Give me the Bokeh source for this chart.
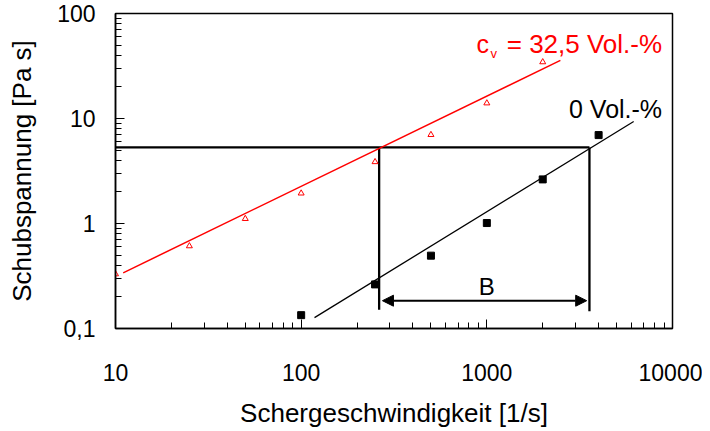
from bokeh.plotting import figure
from bokeh.models import Label, Arrow, NormalHead, FixedTicker
from bokeh.embed import file_html
from bokeh.resources import INLINE

# --- data ---------------------------------------------------------------
shear_rate_red = [10, 25, 50, 100, 250, 500, 1000, 2000]
stress_red = [0.33, 0.61, 1.11, 1.94, 3.86, 7.0, 14.0, 34.5]
fit_red_x = [11, 2490]
fit_red_y = [0.339, 35.8]

shear_rate_blk = [100, 250, 500, 1000, 2000, 4000]
stress_blk = [0.134, 0.263, 0.494, 1.01, 2.63, 6.95]
fit_blk_x = [118, 6180]
fit_blk_y = [0.127, 9.35]

ref_stress = 5.3
b_left = 263
b_right = 3570
b_left_bottom = 0.151
b_right_bottom = 0.146
arrow_x = [274, 3450]
arrow_y = 0.184

x_ticks = [10, 100, 1000, 10000]
x_tick_labels = ["10", "100", "1000", "10000"]
y_ticks = [0.1, 1, 10, 100]
y_tick_labels = ["0,1", "1", "10", "100"]

FONT = "Liberation Sans"

p = figure(width=702, height=430, x_axis_type="log", y_axis_type="log",
           x_range=(10, 10000), y_range=(0.1, 100),
           output_backend="svg", toolbar_location=None,
           min_border_left=115, min_border_right=30,
           min_border_top=13, min_border_bottom=100)

p.grid.visible = False
p.outline_line_color = "black"
p.outline_line_width = 1.5
p.background_fill_color = "white"
p.border_fill_color = "white"

minor_x = [m * 10 ** k for k in range(1, 4) for m in range(2, 10)]
minor_y = [m * 10 ** k for k in range(-1, 2) for m in range(2, 10)]
p.xaxis.ticker = FixedTicker(ticks=x_ticks, minor_ticks=minor_x)
p.yaxis.ticker = FixedTicker(ticks=y_ticks, minor_ticks=minor_y)
p.xaxis.major_label_overrides = {t: l for t, l in zip(x_ticks, x_tick_labels)}
p.yaxis.major_label_overrides = {t: l for t, l in zip(y_ticks, y_tick_labels)}

for ax in (p.xaxis, p.yaxis):
    ax.axis_line_color = "black"
    ax.axis_line_width = 1.5
    ax.major_tick_in = 9
    ax.major_tick_out = 0
    ax.minor_tick_in = 6
    ax.minor_tick_out = 0
    ax.major_tick_line_color = "black"
    ax.minor_tick_line_color = "black"
    ax.major_tick_line_width = 1
    ax.minor_tick_line_width = 1
    ax.major_label_text_font = FONT
    ax.major_label_text_font_size = "23px"
    ax.major_label_text_color = "black"
    ax.axis_label_text_font = FONT
    ax.axis_label_text_font_size = "26px"
    ax.axis_label_text_font_style = "normal"
    ax.axis_label_text_color = "black"

p.xaxis.axis_label = "Schergeschwindigkeit [1/s]"
p.yaxis.axis_label = "Schubspannung [Pa s]"
p.xaxis.major_label_standoff = 35
p.xaxis.axis_label_standoff = 14
p.yaxis.major_label_standoff = 20
p.yaxis.axis_label_standoff = 17

# reference construction lines
p.line([10, b_right], [ref_stress, ref_stress], line_color="black", line_width=2.3)
p.line([b_left, b_left], [ref_stress, b_left_bottom], line_color="black", line_width=2.3)
p.line([b_right, b_right], [ref_stress, b_right_bottom], line_color="black", line_width=2.3)

# fits
p.line(fit_red_x, fit_red_y, line_color="red", line_width=1.5)
p.line(fit_blk_x, fit_blk_y, line_color="black", line_width=1.3)

# data
p.scatter(shear_rate_red, stress_red, marker="triangle", size=6,
          fill_color=None, line_color="red", line_width=1)
p.scatter(shear_rate_blk, stress_blk, marker="square", size=7,
          fill_color="black", line_color="black")

# arrow B
p.add_layout(Arrow(start=NormalHead(size=11, fill_color="black", line_color="black"),
                   end=NormalHead(size=11, fill_color="black", line_color="black"),
                   x_start=arrow_x[0], y_start=arrow_y, x_end=arrow_x[1], y_end=arrow_y,
                   line_color="black", line_width=2))
p.add_layout(Label(x=1000, y=0.249, text="B", text_align="center",
                   text_baseline="middle", text_font=FONT,
                   text_font_size="24px", text_color="black"))

# annotations
p.add_layout(Label(x=8790, y=51.6, text="= 32,5 Vol.-%", text_align="right",
                   text_baseline="alphabetic", text_font=FONT,
                   text_font_size="26px", text_color="red"))
p.add_layout(Label(x=879, y=51.6, text="c", text_align="left",
                   text_baseline="alphabetic", text_font=FONT,
                   text_font_size="25px", text_color="red"))
p.add_layout(Label(x=1045, y=41.5, text="v", text_align="left",
                   text_baseline="alphabetic", text_font=FONT,
                   text_font_size="13px", text_color="red"))
p.add_layout(Label(x=8790, y=12.3, text="0 Vol.-%", text_align="right",
                   text_baseline="alphabetic", text_font=FONT,
                   text_font_size="25px", text_color="black"))

open("out.html", "w").write(file_html(p, INLINE))
